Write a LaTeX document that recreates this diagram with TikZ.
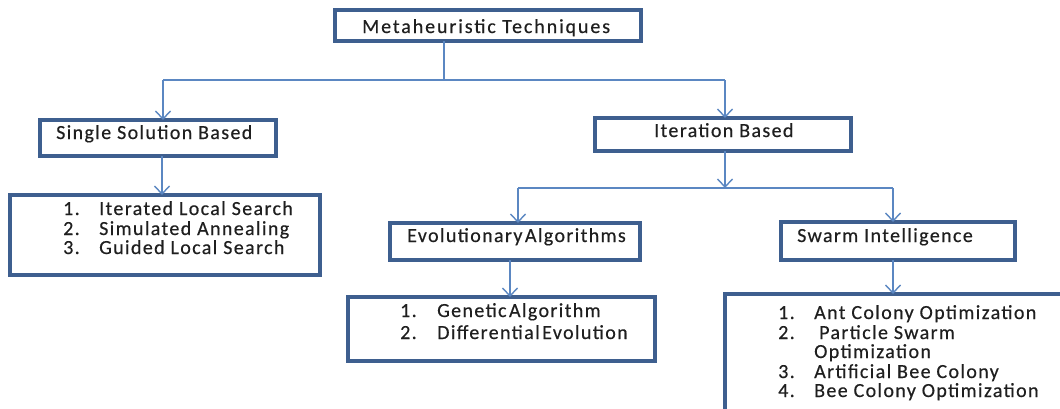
\documentclass[tikz,border=0pt]{standalone}
\usepackage{fontspec}
\setmainfont{Carlito}[LetterSpace=6.8,FakeBold=0.4]
\newfontfamily\titlefont{Carlito}[LetterSpace=9.5,FakeBold=0.4]
\usetikzlibrary{arrows.meta}
\definecolor{boxblue}{HTML}{3E5F8F}
\definecolor{linkblue}{HTML}{5B87C2}
\definecolor{txt}{HTML}{1F1F1F}
\begin{document}
\begin{tikzpicture}[x=1pt,y=-1pt,
  box/.style={draw=boxblue,line width=3.8pt,inner sep=0pt,outer sep=0pt,fill=white},
  lbl/.style={anchor=base west,inner sep=0pt,text=txt,font=\fontsize{20}{22}\selectfont},
  link/.style={draw=linkblue,line width=1.4pt},
  arr/.style={link,-{Straight Barb[length=8pt,width=15pt,line width=1.4pt]}}]
\useasboundingbox (0,0) rectangle (1060,408);
\fill[white] (0,0) rectangle (1060,408);
\clip (0,0) rectangle (1060,408);
% boxes
\node[box,minimum width=306pt,minimum height=31pt] (top) at (488,25.5) {};
\node[box,minimum width=236pt,minimum height=36pt] (single) at (158,138) {};
\node[box,minimum width=310pt,minimum height=80pt] (list1) at (165,235) {};
\node[box,minimum width=256pt,minimum height=33pt] (iter) at (723,134.5) {};
\node[box,minimum width=250pt,minimum height=37pt] (evol) at (515,241.5) {};
\node[box,minimum width=307pt,minimum height=64pt] (list2) at (501.5,329) {};
\node[box,minimum width=234pt,minimum height=38pt] (swarm) at (898,241) {};
\node[box,minimum width=375pt,minimum height=156pt] (list3) at (912.5,372) {};
% texts
\node[lbl,font=\fontsize{20}{22}\titlefont] (ttop) at (362,33) {Metaheuristic Techniques};
\node[lbl] (tsingle) at (56,139) {Single Solution Based};
\node[lbl] (titer) at (654,137) {Iteration Based};
\node[lbl] (tevol) at (407,242) {Evolutionary\hspace{2.5pt}Algorithms};
\node[lbl] (tswarm) at (797,242) {Swarm Intelligence};
\node[lbl] (n11) at (63,215) {1.};
\node[lbl] (n12) at (63,235) {2.};
\node[lbl] (n13) at (63,254) {3.};
\node[lbl] (i11) at (99,215) {Iterated Local Search};
\node[lbl] (i12) at (99,235) {Simulated Annealing};
\node[lbl] (i13) at (99,254) {Guided Local Search};
\node[lbl] (n21) at (400,317) {1.};
\node[lbl] (n22) at (400,339) {2.};
\node[lbl] (i21) at (437,317) {Genetic\hspace{2.5pt}Algorithm};
\node[lbl] (i22) at (437,339) {Differential\hspace{2.5pt}Evolution};
\node[lbl] (n31) at (778,319) {1.};
\node[lbl] (n32) at (778,339) {2.};
\node[lbl] (n33) at (778,378) {3.};
\node[lbl] (n34) at (778,397) {4.};
\node[lbl] (i31) at (814,319) {Ant Colony Optimization};
\node[lbl] (i32) at (819,339) {Particle Swarm};
\node[lbl] (i32b) at (814,358) {Optimization};
\node[lbl] (i33) at (814,378) {Artificial Bee Colony};
\node[lbl] (i34) at (814,397) {Bee Colony Optimization};
% connector junctions
\coordinate (j0) at (444,80);
\coordinate (b1L) at (163,80);
\coordinate (b1R) at (725,80);
\coordinate (j1) at (725,188);
\coordinate (b2L) at (518,188);
\coordinate (b2R) at (893,188);
\coordinate (a1) at (162,0);
\coordinate (a2) at (510,0);
\coordinate (a3) at (893,0);
% connectors
\draw[link] (j0 |- top.south) -- (j0);
\draw[link] (b1L) -- (b1R);
\draw[arr] (b1L) -- (b1L |- single.north);
\draw[arr] (b1R) -- (b1R |- iter.north);
\draw[arr] (a1 |- single.south) -- (a1 |- list1.north);
\draw[arr] (j1 |- iter.south) -- (j1);
\draw[link] (b2L) -- (b2R);
\draw[arr] (b2L) -- (b2L |- evol.north);
\draw[arr] (b2R) -- (b2R |- swarm.north);
\draw[arr] (a2 |- evol.south) -- (a2 |- list2.north);
\draw[arr] (a3 |- swarm.south) -- (a3 |- list3.north);
\end{tikzpicture}
\end{document}
